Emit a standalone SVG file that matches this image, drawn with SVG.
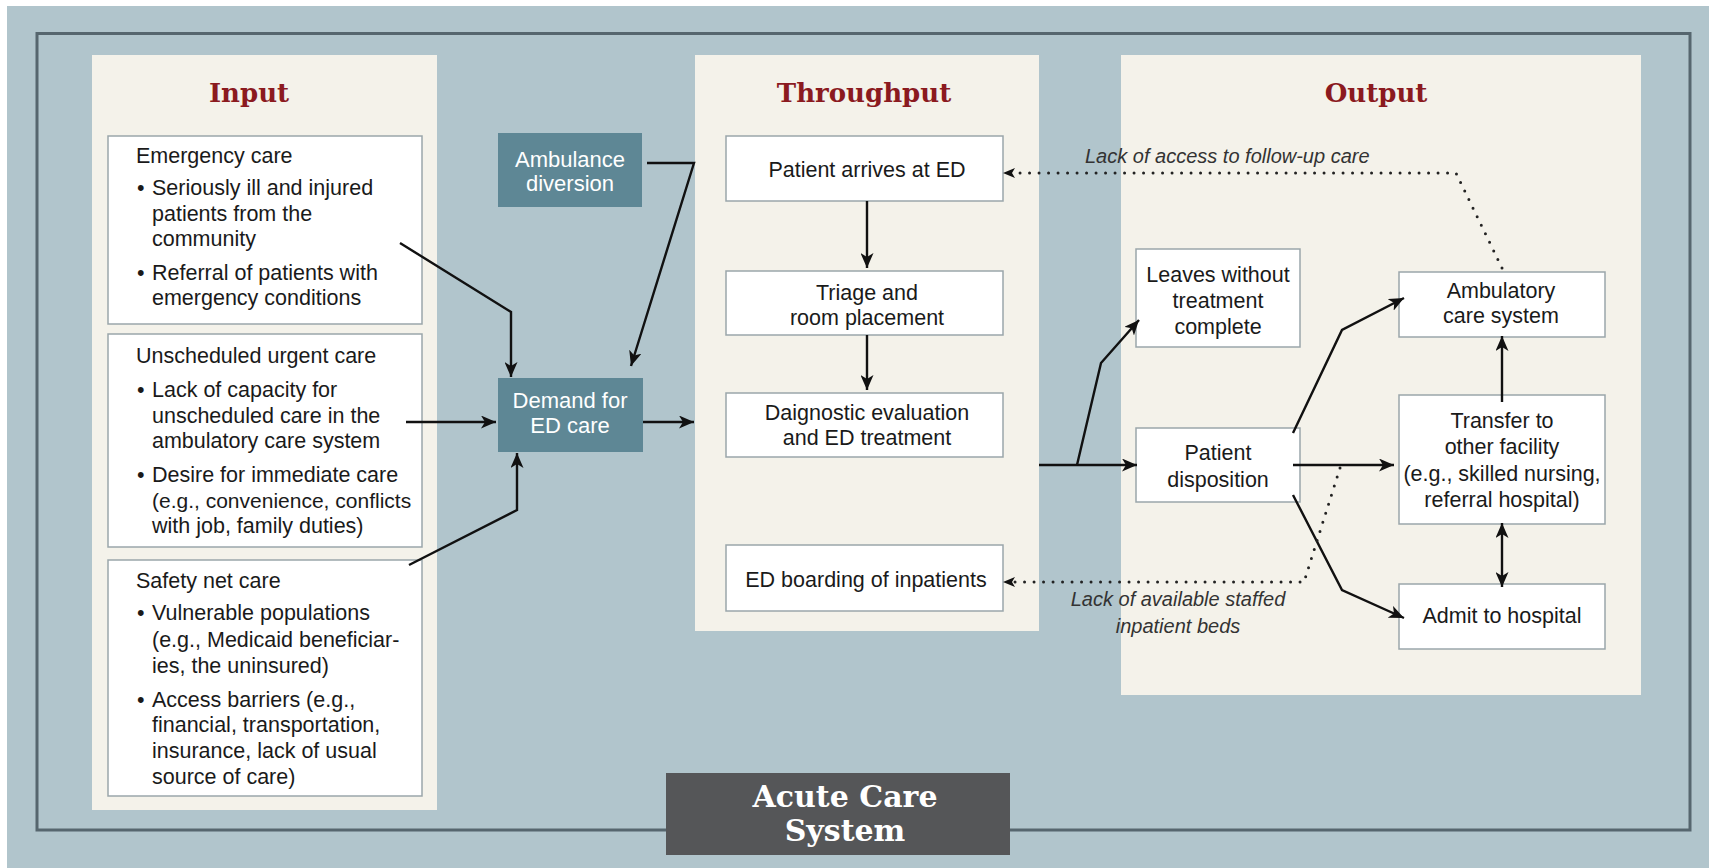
<svg xmlns="http://www.w3.org/2000/svg" width="1709" height="868" viewBox="0 0 1709 868">
<style>
.bg{fill:#b1c5cc}
.panel{fill:#f4f2ea}
.box{fill:#ffffff;stroke:#9aa6ab;stroke-width:1.5}
.teal{fill:#5e8795}
.title{font-family:"DejaVu Serif",serif;font-weight:bold;font-size:26px;fill:#8b1a1f;text-anchor:middle}
.t{font-family:"Liberation Sans",Arial,sans-serif;font-size:21.5px;fill:#1a1a1a}
.c{text-anchor:middle}
.w{fill:#ffffff;font-size:22px}
.it{font-family:"Liberation Sans",Arial,sans-serif;font-style:italic;font-size:20px;fill:#333333}
.acute{font-family:"DejaVu Serif",serif;font-weight:bold;font-size:30px;fill:#ffffff;text-anchor:middle}
.ln{fill:none;stroke:#111111;stroke-width:2.4;stroke-linejoin:miter}
.dot{fill:none;stroke:#222222;stroke-width:3;stroke-dasharray:0 9.5;stroke-linecap:round}
</style>
<defs>
<marker id="ah" markerUnits="userSpaceOnUse" markerWidth="17" markerHeight="13" refX="15" refY="6.5" orient="auto-start-reverse">
<path d="M0,0 L15,6.5 L0,13 L4,6.5 Z" fill="#111111"/>
</marker>
<marker id="ahs" markerUnits="userSpaceOnUse" markerWidth="14" markerHeight="12" refX="12" refY="6" orient="auto">
<path d="M0,1 L12,6 L0,11 L3,6 Z" fill="#111111"/>
</marker>
</defs>
<rect x="0" y="0" width="1709" height="868" fill="#ffffff"/>
<rect class="bg" x="7" y="6" width="1702" height="862"/>
<rect x="37" y="33.5" width="1653" height="796.5" fill="none" stroke="#56666e" stroke-width="3"/>

<g id="panel-input">
<rect class="panel" x="92" y="55" width="345" height="755"/>
<text class="title" x="249" y="102">Input</text>
</g>
<g id="panel-throughput">
<rect class="panel" x="695" y="55" width="344" height="576"/>
<text class="title" x="864" y="102">Throughput</text>
</g>
<g id="panel-output">
<rect class="panel" x="1121" y="55" width="520" height="640"/>
<text class="title" x="1376" y="102">Output</text>
</g>

<g id="emergency-care">
<rect class="box" x="108" y="136" width="314" height="188"/>
<text class="t" x="136" y="163">Emergency care</text>
<text class="t" x="137" y="195">•</text>
<text class="t" x="152" y="195">Seriously ill and injured</text>
<text class="t" x="152" y="221">patients from the</text>
<text class="t" x="152" y="246">community</text>
<text class="t" x="137" y="280">•</text>
<text class="t" x="152" y="280">Referral of patients with</text>
<text class="t" x="152" y="305">emergency conditions</text>
</g>

<g id="unscheduled-urgent-care">
<rect class="box" x="108" y="334" width="314" height="213"/>
<text class="t" x="136" y="363">Unscheduled urgent care</text>
<text class="t" x="137" y="397">•</text>
<text class="t" x="152" y="397">Lack of capacity for</text>
<text class="t" x="152" y="423">unscheduled care in the</text>
<text class="t" x="152" y="448">ambulatory care system</text>
<text class="t" x="137" y="482">•</text>
<text class="t" x="152" y="482">Desire for immediate care</text>
<text class="t" x="152" y="508" style="font-size:21px">(e.g., convenience, conflicts</text>
<text class="t" x="152" y="533">with job, family duties)</text>
</g>

<g id="safety-net-care">
<rect class="box" x="108" y="560" width="314" height="236"/>
<text class="t" x="136" y="588">Safety net care</text>
<text class="t" x="137" y="620">•</text>
<text class="t" x="152" y="620">Vulnerable populations</text>
<text class="t" x="152" y="647">(e.g., Medicaid beneficiar-</text>
<text class="t" x="152" y="673">ies, the uninsured)</text>
<text class="t" x="137" y="707">•</text>
<text class="t" x="152" y="707">Access barriers (e.g.,</text>
<text class="t" x="152" y="732">financial, transportation,</text>
<text class="t" x="152" y="758">insurance, lack of usual</text>
<text class="t" x="152" y="784">source of care)</text>
</g>

<g id="ambulance-diversion">
<rect class="teal" x="498" y="133" width="144" height="74"/>
<text class="t c w" x="570" y="167">Ambulance</text>
<text class="t c w" x="570" y="191">diversion</text>
</g>

<g id="demand-for-ed-care">
<rect class="teal" x="498" y="378" width="145" height="74"/>
<text class="t c w" x="570" y="408">Demand for</text>
<text class="t c w" x="570" y="433">ED care</text>
</g>

<g id="patient-arrives">
<rect class="box" x="726" y="136" width="277" height="65"/>
<text class="t c" x="867" y="177">Patient arrives at ED</text>
</g>
<g id="triage">
<rect class="box" x="726" y="271" width="277" height="64"/>
<text class="t c" x="867" y="300">Triage and</text>
<text class="t c" x="867" y="325">room placement</text>
</g>
<g id="diagnostic">
<rect class="box" x="726" y="393" width="277" height="64"/>
<text class="t c" x="867" y="420">Daignostic evaluation</text>
<text class="t c" x="867" y="445">and ED treatment</text>
</g>
<g id="ed-boarding">
<rect class="box" x="726" y="545" width="277" height="66"/>
<text class="t c" x="866" y="587">ED boarding of inpatients</text>
</g>

<g id="leaves-without-treatment">
<rect class="box" x="1136" y="249" width="164" height="98"/>
<text class="t c" x="1218" y="282">Leaves without</text>
<text class="t c" x="1218" y="308">treatment</text>
<text class="t c" x="1218" y="334">complete</text>
</g>
<g id="patient-disposition">
<rect class="box" x="1136" y="428" width="164" height="74"/>
<text class="t c" x="1218" y="460">Patient</text>
<text class="t c" x="1218" y="487">disposition</text>
</g>
<g id="ambulatory-care-system">
<rect class="box" x="1399" y="272" width="206" height="65"/>
<text class="t c" x="1501" y="298">Ambulatory</text>
<text class="t c" x="1501" y="323">care system</text>
</g>
<g id="transfer">
<rect class="box" x="1399" y="395" width="206" height="129"/>
<text class="t c" x="1502" y="428">Transfer to</text>
<text class="t c" x="1502" y="454">other facility</text>
<text class="t c" x="1502" y="481">(e.g., skilled nursing,</text>
<text class="t c" x="1502" y="507">referral hospital)</text>
</g>
<g id="admit-to-hospital">
<rect class="box" x="1399" y="584" width="206" height="65"/>
<text class="t c" x="1502" y="623">Admit to hospital</text>
</g>

<g id="acute-care-system">
<rect x="666" y="773" width="344" height="82" fill="#555658"/>
<text class="acute" x="845" y="807">Acute Care</text>
<text class="acute" x="845" y="841">System</text>
</g>

<g id="connectors">
<path class="ln" d="M400,243 L511,312 L511,377" marker-end="url(#ah)"/>
<path class="ln" d="M406,422 L496,422" marker-end="url(#ah)"/>
<path class="ln" d="M409,565 L517,510 L517,453" marker-end="url(#ah)"/>
<path class="ln" d="M647,163 L694,163 L631,366" marker-end="url(#ah)"/>
<path class="ln" d="M643,422 L694,422" marker-end="url(#ah)"/>
<path class="ln" d="M867,201 L867,268" marker-end="url(#ah)"/>
<path class="ln" d="M867,335 L867,390" marker-end="url(#ah)"/>
<path class="ln" d="M1039,465 L1137,465" marker-end="url(#ah)"/>
<path class="ln" d="M1077,465 L1101,363 L1139,320" marker-end="url(#ah)"/>
<path class="ln" d="M1293,433 L1342,330 L1404,298" marker-end="url(#ah)"/>
<path class="ln" d="M1293,465 L1394,465" marker-end="url(#ah)"/>
<path class="ln" d="M1293,495 L1342,590 L1404,618" marker-end="url(#ah)"/>
<path class="ln" d="M1502,402 L1502,336" marker-end="url(#ah)"/>
<path class="ln" d="M1502,523 L1502,587" marker-start="url(#ah)" marker-end="url(#ah)"/>
<path class="dot" d="M1502,268 L1456,173 L1012,173"/>
<path d="M1014,173 L1003,173" stroke="none" fill="none" marker-end="url(#ahs)"/>
<path class="dot" d="M1340,468 L1304,582 L1012,582"/>
<path d="M1014,582 L1003,582" stroke="none" fill="none" marker-end="url(#ahs)"/>
<text class="it" x="1085" y="163">Lack of access to follow-up care</text>
<text class="it c" x="1178" y="606">Lack of available staffed</text>
<text class="it c" x="1178" y="633">inpatient beds</text>
</g>
</svg>
